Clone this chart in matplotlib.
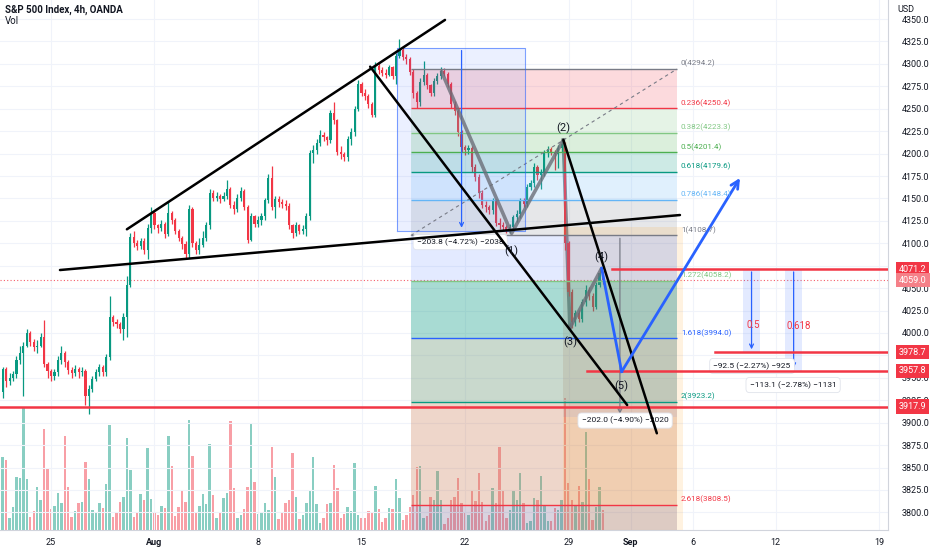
import matplotlib
matplotlib.use("Agg")
import matplotlib.pyplot as plt
import matplotlib.transforms as mtransforms
from matplotlib.patches import Rectangle
import numpy as np

plt.rcParams['font.family'] = ['Roboto', 'DejaVu Sans']

# 4h candles, bar 0 = first bar of Jul 25
first_bar = -14
first_open = 3934
closes = [3960, 3946, 3950, 3954, 3970, 3978, 3986, 4000, 3990, 3984,
          3986, 3995, 3966, 3958, 3952, 3956, 3970, 3978, 3968, 3959,
          3955, 3960, 3956, 3958, 3930, 3938, 3949, 3956, 3962, 3956,
          3973, 4018, 4012, 4010, 4005, 4018, 4054, 4107, 4100, 4097,
          4102, 4092, 4117, 4134, 4120, 4117, 4122, 4110, 4134, 4126,
          4114, 4106, 4099, 4088, 4138, 4100, 4092, 4098, 4106, 4120,
          4156, 4151, 4153, 4149, 4153, 4161, 4143, 4138, 4151, 4158,
          4141, 4104, 4130, 4122, 4126, 4130, 4148, 4173, 4141, 4149,
          4146, 4144, 4142, 4120, 4112, 4120, 4114, 4116, 4130, 4201,
          4204, 4212, 4221, 4218, 4215, 4245, 4237, 4202, 4199, 4196,
          4216, 4224, 4250, 4278, 4268, 4264, 4255, 4243, 4298, 4293,
          4290, 4288, 4296, 4287, 4309, 4316, 4308, 4305, 4291, 4267,
          4257, 4280, 4288, 4276, 4268, 4281, 4286, 4292, 4289, 4278,
          4255, 4248, 4224, 4207, 4204, 4206, 4185, 4174, 4156, 4143,
          4140, 4137, 4147, 4123, 4120, 4118, 4114, 4118, 4129, 4133,
          4148, 4144, 4163, 4167, 4185, 4176, 4179, 4201, 4205, 4202,
          4199, 4206, 4211, 4100, 4046, 4012, 4022, 4016, 4035, 4048,
          4041, 4029, 4053, 4067, 4059]
highs = [3962, 3962, 3955, 3958, 3974, 3985, 3990, 4004, 4002, 3993,
         3992, 4000, 4014, 3968, 3960, 3960, 3974, 3986, 3980, 3970,
         3962, 3964, 3962, 3962, 3960, 3942, 3952, 3960, 3966, 3964,
         3977, 4041, 4020, 4016, 4012, 4022, 4063, 4112, 4114, 4104,
         4106, 4106, 4122, 4140, 4136, 4122, 4126, 4124, 4147, 4136,
         4128, 4116, 4108, 4102, 4143, 4140, 4102, 4106, 4114, 4124,
         4161, 4159, 4157, 4155, 4157, 4171, 4163, 4147, 4155, 4163,
         4161, 4143, 4134, 4132, 4130, 4134, 4151, 4177, 4186, 4153,
         4153, 4149, 4148, 4145, 4122, 4124, 4122, 4120, 4134, 4204,
         4210, 4216, 4226, 4224, 4220, 4249, 4258, 4239, 4208, 4202,
         4220, 4228, 4253, 4282, 4280, 4272, 4266, 4257, 4302, 4302,
         4296, 4294, 4299, 4298, 4312, 4328, 4318, 4311, 4308, 4294,
         4270, 4284, 4303, 4290, 4278, 4284, 4290, 4296, 4295, 4291,
         4280, 4259, 4250, 4226, 4210, 4210, 4208, 4188, 4177, 4159,
         4147, 4143, 4151, 4149, 4128, 4124, 4120, 4122, 4132, 4137,
         4151, 4150, 4166, 4171, 4189, 4187, 4183, 4204, 4209, 4207,
         4204, 4210, 4215, 4213, 4103, 4049, 4026, 4026, 4038, 4053,
         4051, 4045, 4057, 4072, 4069]
lows = [3927, 3940, 3942, 3946, 3950, 3965, 3930, 3984, 3986, 3980,
        3978, 3984, 3962, 3950, 3946, 3948, 3952, 3966, 3962, 3954,
        3950, 3952, 3950, 3952, 3920, 3910, 3934, 3946, 3952, 3952,
        3952, 3970, 4008, 4006, 4000, 3992, 3995, 4051, 4096, 4092,
        4094, 4088, 4082, 4112, 4116, 4112, 4114, 4106, 4108, 4122,
        4110, 4102, 4094, 4084, 4084, 4096, 4088, 4088, 4096, 4102,
        4116, 4147, 4147, 4145, 4147, 4149, 4139, 4133, 4135, 4147,
        4137, 4100, 4102, 4118, 4118, 4120, 4126, 4145, 4137, 4128,
        4141, 4139, 4137, 4116, 4106, 4108, 4110, 4110, 4108, 4126,
        4190, 4200, 4209, 4214, 4210, 4212, 4233, 4198, 4194, 4192,
        4192, 4210, 4220, 4247, 4264, 4260, 4251, 4241, 4241, 4289,
        4286, 4284, 4286, 4283, 4278, 4306, 4304, 4300, 4288, 4262,
        4251, 4253, 4276, 4272, 4264, 4264, 4278, 4283, 4286, 4274,
        4251, 4243, 4220, 4202, 4198, 4200, 4180, 4169, 4151, 4139,
        4135, 4133, 4133, 4119, 4116, 4114, 4111, 4111, 4114, 4124,
        4128, 4140, 4141, 4159, 4163, 4171, 4161, 4175, 4196, 4198,
        4182, 4184, 4202, 4092, 4041, 4006, 4008, 4012, 4012, 4030,
        4037, 4025, 4027, 4051, 4055]
volumes = [73, 70, 12, 23, 53, 52, 122, 51, 13, 19,
           43, 30, 101, 62, 21, 24, 37, 27, 94, 43,
           13, 19, 27, 28, 68, 51, 20, 17, 27, 22,
           46, 105, 13, 18, 28, 33, 92, 60, 13, 18,
           36, 30, 82, 31, 18, 15, 24, 22, 94, 64,
           14, 23, 39, 28, 110, 74, 17, 24, 36, 26,
           86, 35, 12, 18, 32, 37, 109, 42, 12, 15,
           21, 43, 107, 48, 16, 17, 27, 20, 83, 53,
           11, 17, 27, 30, 77, 33, 11, 15, 27, 40,
           73, 26, 7, 12, 26, 27, 65, 42, 12, 16,
           23, 19, 67, 15, 12, 12, 19, 17, 44, 21,
           8, 12, 22, 21, 51, 32, 10, 15, 23, 35,
           63, 64, 12, 14, 33, 30, 59, 30, 6, 12,
           30, 33, 52, 27, 17, 15, 39, 29, 57, 28,
           9, 15, 42, 27, 83, 39, 12, 20, 40, 30,
           57, 27, 7, 9, 32, 30, 54, 25, 9, 9,
           22, 20, 30, 132, 47, 30, 25, 44, 28, 98,
           51, 10, 23, 43, 20]

date_ticks = [0, 30, 60, 90, 120, 150, 168, 186, 210, 240]
date_labels = ["25", "Aug", "8", "15", "22", "29", "Sep", "6", "12", "19"]

# fib extension
fib_ratios = [0, 0.236, 0.382, 0.5, 0.618, 0.786, 1, 1.272, 1.618, 2, 2.618]
fib_prices = [4294.2, 4250.4, 4223.3, 4201.4, 4179.6, 4148.4, 4108.7, 4058.2, 3994.0, 3923.2, 3808.5]
fib_colors = ['#787b86', '#f23645', '#81c784', '#4caf50', '#089981', '#64b5f6',
              '#787b86', '#81c784', '#2962ff', '#089981', '#f23645']
band_colors = ['#f23645', '#81c784', '#4caf50', '#089981', '#64b5f6', '#787b86',
               '#2962ff', '#089981', '#78a082', '#c87850']
band_alpha = [0.18, 0.2, 0.2, 0.2, 0.2, 0.18, 0.13, 0.35, 0.4, 0.3]
fib_x = [104.3, 181.4]

# hand drawn lines (bar index, price)
wedge_top = [[22.0, 114.2], [4115.6, 4349.0]]
wedge_base = [[2.6, 182.3], [4070.2, 4131.5]]
down_a = [[92.5, 167.0], [4296.9, 3919.7]]
down_b = [[148.5, 175.6], [4215.2, 3888.2]]
wave_x = [113.2, 133.5, 148.5, 150.4, 159.6]
wave_y = [4291.3, 4111.1, 4215.2, 4005.6, 4072.1]
proj_x = [159.6, 165.4, 199.7]
proj_y = [4072.1, 3956.9, 4172.8]
wave_labels = ["(1)", "(2)", "(3)", "(4)", "(5)"]
wave_lab_x = [133.5, 148.5, 150.4, 159.6, 165.4]
wave_lab_y = [4091.4, 4228.5, 3990.0, 4084.7, 3940.9]

red_levels = [4071.2, 3978.7, 3957.8, 3917.9]
red_starts = [162.5, 192.5, 155.4, -15]
last_price = 4059.0

# price range tools: x0, x1, top, bottom, text, text pos
ranges = [
    (100.2, 137.4, 4318.0, 4114.2, "\u2212203.8 (\u22124.72%) \u22122038", 118.6, 4101.3),
    (148.4, 181.4, 4108.7, 3906.7, "\u2212202.0 (\u22124.90%) \u22122020", 166.4, 3902.4),
    (200.6, 205.5, 4071.2, 3978.7, "\u221292.5 (\u22122.27%) \u2212925", 203.2, 3963.2),
    (212.8, 217.7, 4071.2, 3957.8, "\u2212113.1 (\u22122.78%) \u22121131", 215.1, 3942.0),
]
ratio_notes = [("0.5", 203.5, 4009.0), ("0.618", 216.8, 4008.0)]

fig = plt.figure(figsize=(9.32, 5.5), dpi=100)
fig.patch.set_facecolor('white')
ax = fig.add_axes([0, 20 / 550, 888 / 932, 530 / 550])
axv = ax.twinx()
ax.set_zorder(axv.get_zorder() + 1)
ax.patch.set_visible(False)

bars = list(range(first_bar, first_bar + len(closes)))
opens = [first_open] + closes[:-1]
cols = ['#089981' if c >= o else '#f23645' for o, c in zip(opens, closes)]

# volume
axv.bar(bars, volumes, width=0.7, color=cols, alpha=0.48, linewidth=0)
axv.set_ylim(0, 530)
axv.set_axis_off()

# candles
ax.vlines(bars, lows, highs, colors=cols, lw=0.9, zorder=2)
bottoms = [min(o, c) for o, c in zip(opens, closes)]
heights = [max(abs(c - o), 0.9) for o, c in zip(opens, closes)]
ax.bar(bars, heights, bottom=bottoms, width=0.62, color=cols, linewidth=0, zorder=2)

# fib bands
x0, x1 = fib_x
for i in range(len(fib_prices) - 1):
    ax.add_patch(Rectangle((x0, fib_prices[i + 1]), x1 - x0, fib_prices[i] - fib_prices[i + 1],
                           fc=band_colors[i], alpha=band_alpha[i], lw=0, zorder=3))
ax.add_patch(Rectangle((x0, 3700), x1 - x0, fib_prices[-1] - 3700, fc='#826e96', alpha=0.3, lw=0, zorder=3))
# orange box on the right part
ax.add_patch(Rectangle((148.4, 3700), 183.2 - 148.4, 4118.3 - 3700, fc='#ff9800', alpha=0.12, lw=0, zorder=3))
ax.hlines(fib_prices, x0, x1, colors=fib_colors, lw=1, zorder=4)
ax.plot(fib_x, [fib_prices[6], fib_prices[0]], color='#787b86', lw=0.8, ls=(0, (3, 3)), zorder=4)
for r, p, c in zip(fib_ratios, fib_prices, fib_colors):
    ax.text(x1 + 1.2, p + 2, f"{r:g}({p:.1f})", color=c, fontsize=5.8, ha='left', va='bottom', zorder=7)

# price ranges
for i, (a, b, top, bot, txt, tx, ty) in enumerate(ranges):
    alpha = {0: 0.09, 1: 0.08}.get(i, 0.13)
    ax.add_patch(Rectangle((a, bot), b - a, top - bot, fc='#2962ff', alpha=alpha, ec='none', zorder=3))
    xm = (a + b) / 2 if i != 0 else 119.0
    lc = '#787b86' if i == 1 else '#2962ff'
    ax.annotate('', xy=(xm, bot), xytext=(xm, top),
                arrowprops=dict(arrowstyle='->', color=lc, lw=0.9, mutation_scale=7), zorder=5)
    ax.text(tx, ty, txt, fontsize=6, color='#131722', ha='center', va='center', zorder=5.5,
            bbox=dict(boxstyle='round,pad=0.45', fc='white', ec='#e0e3eb', lw=0.6))
ax.plot([100.2, 100.2, 137.4, 137.4, 100.2], [4114.2, 4318.0, 4318.0, 4114.2, 4114.2],
        color='#2962ff', lw=0.8, alpha=0.6, zorder=4)
for txt, tx, ty in ratio_notes:
    ax.text(tx, ty, txt, color='#f23645', fontsize=7, ha='center', va='center', zorder=8)

# red levels
ax.axhline(last_price, color='#f23645', lw=0.8, ls=(0, (1, 2)), alpha=0.8, zorder=1)
for p, s in zip(red_levels, red_starts):
    ax.plot([s, 243], [p, p], color='#f23645', lw=1.8, zorder=6)

# trend lines
for ln in (wedge_top, wedge_base, down_a, down_b):
    ax.plot(ln[0], ln[1], color='black', lw=1.8, zorder=6, solid_capstyle='round')

# waves: the (2)-(3) leg sits behind the big red candle
ax.plot(wave_x[:3], wave_y[:3], color='#6b6e78', lw=2.6, alpha=0.8, zorder=5, solid_capstyle='round')
ax.plot(wave_x[2:4], wave_y[2:4], color='#6b6e78', lw=2.6, alpha=0.8, zorder=1.5)
ax.plot(wave_x[3:], wave_y[3:], color='#6b6e78', lw=2.6, alpha=0.8, zorder=5, solid_capstyle='round')
ax.plot(proj_x[:2], proj_y[:2], color='#2962ff', lw=2, zorder=6)
ax.annotate('', xy=(proj_x[2], proj_y[2]), xytext=(proj_x[1], proj_y[1]),
            arrowprops=dict(arrowstyle='->', color='#2962ff', lw=2, mutation_scale=14,
                            shrinkA=0, shrinkB=0), zorder=6)
for t, lx, ly in zip(wave_labels, wave_lab_x, wave_lab_y):
    ax.text(lx, ly, t, fontsize=8, color='#131722', ha='center', va='center', zorder=8)

# axes
ax.set_xlim(-14.78, 242.6)
ax.set_ylim(3780.4, 4371.2)
ax.set_xticks(date_ticks)
ax.set_xticklabels(date_labels)
for lab in ax.get_xticklabels():
    if lab.get_text() in ("Aug", "Sep"):
        lab.set_fontweight('bold')
ax.set_yticks(np.arange(3800, 4351, 25))
ax.set_yticklabels([f"{v:.1f}" for v in np.arange(3800, 4351, 25)])
ax.yaxis.tick_right()
ax.tick_params(axis='y', left=False, right=False, labelleft=False, labelright=True,
               length=0, pad=10, labelsize=6.5, colors='#131722')
ax.tick_params(axis='x', length=0, pad=6, labelsize=6.5, colors='#131722')
ax.grid(True, color='#f0f3fa', lw=0.8)
ax.set_axisbelow(True)
for side in ('top', 'left'):
    ax.spines[side].set_visible(False)
for side in ('right', 'bottom'):
    ax.spines[side].set_color('#d1d4dc')
    ax.spines[side].set_linewidth(0.8)

# price tags on the axis
tr = mtransforms.blended_transform_factory(ax.transAxes, ax.transData)
for p in red_levels[:1] + [last_price] + red_levels[1:]:
    fc = '#f58088' if p == last_price else '#f23645'
    ax.text(1.0125, p, f"{p:.1f}", transform=tr, fontsize=6.5, color='white', ha='left', va='center',
            zorder=10, clip_on=False,
            bbox=dict(boxstyle='square,pad=0.3', fc=fc, ec='none'))

fig.text(897 / 932, 1 - 10 / 550, "USD", fontsize=6.5, color='#131722', ha='left', va='center',
         bbox=dict(boxstyle='square,pad=0.2', fc='white', ec='none'))
fig.text(5 / 932, 1 - 10 / 550, "S&P 500 Index, 4h, OANDA", fontsize=7, fontweight='bold',
         color='#131722', ha='left', va='center')
fig.text(5 / 932, 1 - 21 / 550, "Vol", fontsize=7, color='#131722', ha='left', va='center')

fig.savefig("out.png", dpi=100)
